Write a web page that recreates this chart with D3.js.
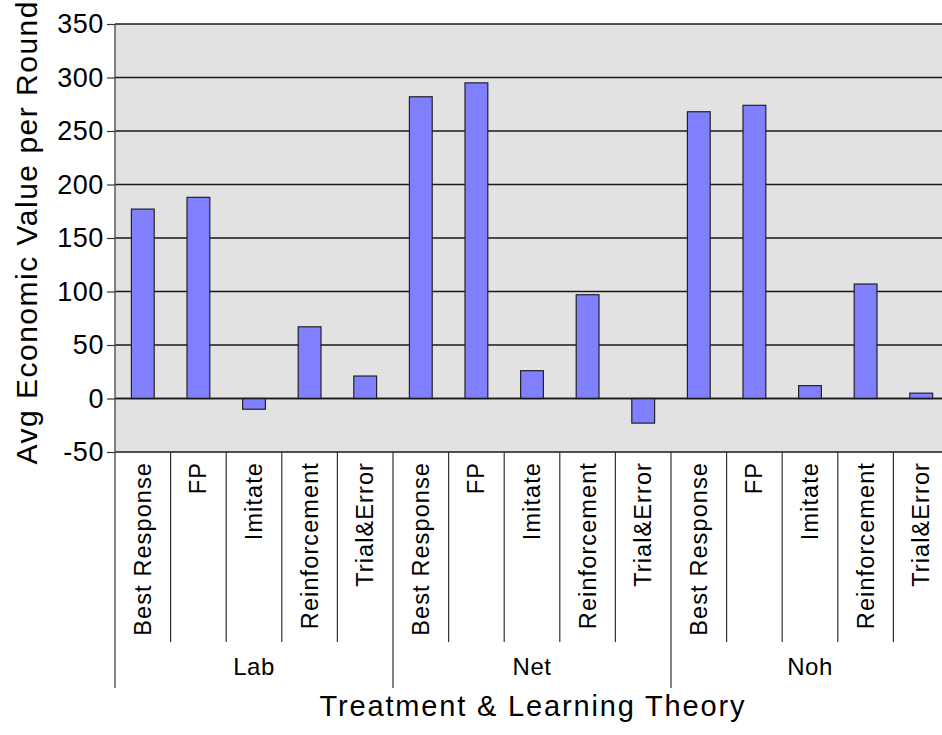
<!DOCTYPE html>
<html>
<head>
<meta charset="utf-8">
<script src="https://cdn.jsdelivr.net/npm/d3@7"></script>
<style>
  html, body { margin: 0; padding: 0; background: #fff; }
  svg { display: block; font-family: "Liberation Sans", Arial, sans-serif; }
</style>
</head>
<body>
<svg id="chart" width="942" height="735"></svg>
<script>
// ---- data ----
const treatments = ["Lab", "Net", "Noh"];
const theories = ["Best Response", "FP", "Imitate", "Reinforcement", "Trial&Error"];
const labValues = [177, 188, -10, 67, 21];
const netValues = [282, 295, 26, 97, -23];
const nohValues = [268, 274, 12, 107, 5];
const yTicks = [-50, 0, 50, 100, 150, 200, 250, 300, 350];
const yTitle = "Avg Economic Value per Round";
const xTitle = "Treatment & Learning Theory";

const seriesByTreatment = [labValues, netValues, nohValues];
const rows = [];
treatments.forEach((t, gi) => {
  theories.forEach((th, ti) => {
    rows.push({ key: t + "|" + th, treatment: t, theory: th, value: seriesByTreatment[gi][ti] });
  });
});

// ---- layout ----
const svg = d3.select("#chart");
const plotLeft = 115, plotRight = 949, plotTop = 24, plotBottom = 452;
const catLineBottom = 642, groupLineBottom = 688;

const x = d3.scaleBand().domain(rows.map(d => d.key)).range([plotLeft, plotRight]).padding(0);
const xg = d3.scaleBand().domain(treatments).range([plotLeft, plotRight]).padding(0);
const y = d3.scaleLinear().domain([-50, 350]).range([plotBottom, plotTop]);
const barW = x.bandwidth() * 0.41;

// plot background
svg.append("rect")
  .attr("x", plotLeft).attr("y", plotTop)
  .attr("width", plotRight - plotLeft).attr("height", plotBottom - plotTop)
  .attr("fill", "#e2e2e2");

// gridlines
svg.append("g").selectAll("line").data(yTicks).join("line")
  .attr("x1", plotLeft).attr("x2", plotRight)
  .attr("y1", d => y(d)).attr("y2", d => y(d))
  .attr("stroke", "#1a1a1a").attr("stroke-width", 1.6);

// y axis ticks & labels
const yAxis = d3.axisLeft(y).tickValues(yTicks).tickFormat(d => String(d)).tickSize(8).tickPadding(3);
const ya = svg.append("g").attr("transform", `translate(${plotLeft},0)`).call(yAxis);
ya.select(".domain").remove();
ya.selectAll(".tick line").attr("stroke", "#333").attr("stroke-width", 1.2);
ya.selectAll(".tick text")
  .attr("font-size", 27).attr("fill", "#000")
  .attr("font-family", "'Liberation Sans', Arial, sans-serif")
  .style("letter-spacing", "0.6px");

// bars
svg.append("g").selectAll("rect").data(rows).join("rect")
  .attr("x", d => x(d.key) + (x.bandwidth() - barW) / 2)
  .attr("y", d => y(Math.max(0, d.value)))
  .attr("width", barW)
  .attr("height", d => Math.abs(y(d.value) - y(0)))
  .attr("fill", "#8080ff")
  .attr("stroke", "#222").attr("stroke-width", 1.2);

// zero line on top
svg.append("line")
  .attr("x1", plotLeft).attr("x2", plotRight)
  .attr("y1", y(0)).attr("y2", y(0))
  .attr("stroke", "#1a1a1a").attr("stroke-width", 1.6);

// left axis line
svg.append("line")
  .attr("x1", plotLeft).attr("x2", plotLeft)
  .attr("y1", plotTop).attr("y2", groupLineBottom)
  .attr("stroke", "#444").attr("stroke-width", 1.3);

// category separators
const catKeys = rows.map(d => d.key).slice(1);
svg.append("g").selectAll("line").data(catKeys).join("line")
  .attr("x1", d => x(d)).attr("x2", d => x(d))
  .attr("y1", plotBottom)
  .attr("y2", (d, i) => ((i + 1) % theories.length === 0 ? groupLineBottom : catLineBottom))
  .attr("stroke", "#333").attr("stroke-width", 1.2);
svg.append("line")
  .attr("x1", plotRight).attr("x2", plotRight)
  .attr("y1", plotBottom).attr("y2", groupLineBottom)
  .attr("stroke", "#333").attr("stroke-width", 1.2);

// category labels (rotated)
svg.append("g").selectAll("text").data(rows).join("text")
  .attr("transform", d => `translate(${x(d.key) + x.bandwidth() / 2 + 8},${plotBottom + 10}) rotate(-90)`)
  .attr("text-anchor", "end")
  .attr("font-size", 23.5)
  .style("letter-spacing", "1.1px")
  .attr("fill", "#000")
  .text(d => d.theory);

// group labels
svg.append("g").selectAll("text").data(treatments).join("text")
  .attr("x", d => xg(d) + xg.bandwidth() / 2)
  .attr("y", 675)
  .attr("text-anchor", "middle")
  .attr("font-size", 24)
  .style("letter-spacing", "0.5px")
  .attr("fill", "#000")
  .text(d => d);

// x title
svg.append("text")
  .attr("x", 532).attr("y", 716)
  .attr("text-anchor", "middle")
  .attr("font-size", 29)
  .attr("textLength", 425).attr("lengthAdjust", "spacing")
  .attr("fill", "#000")
  .text(xTitle);

// y title
svg.append("text")
  .attr("transform", "translate(37,233) rotate(-90)")
  .attr("text-anchor", "middle")
  .attr("font-size", 30)
  .attr("textLength", 463).attr("lengthAdjust", "spacing")
  .attr("fill", "#000")
  .text(yTitle);
</script>
</body>
</html>
